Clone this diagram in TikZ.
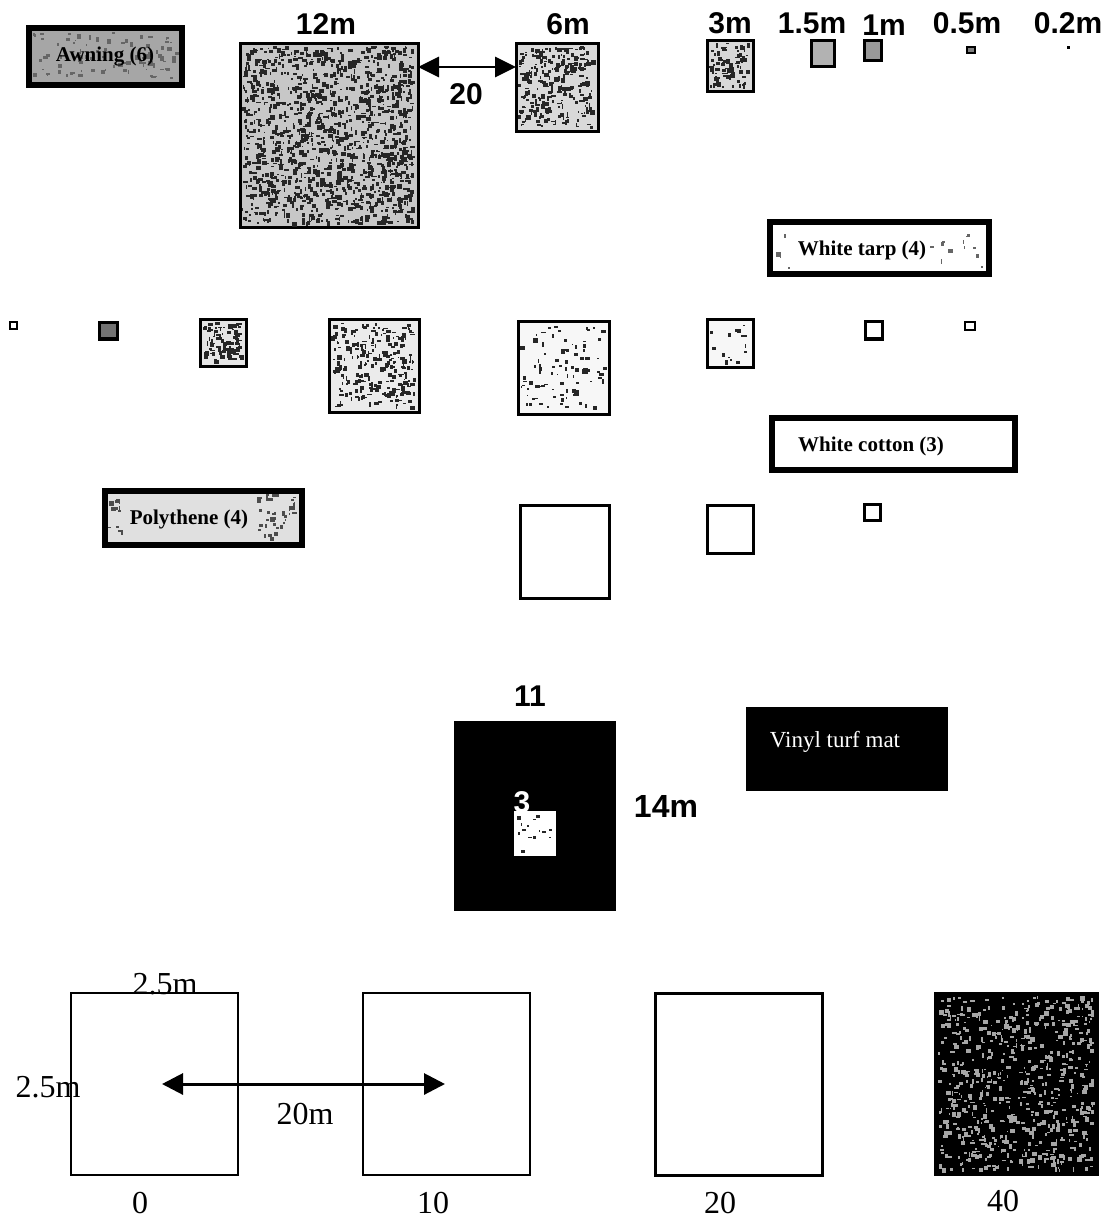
\documentclass[tikz,border=0pt]{standalone}
\usepackage{fontspec}
\setmainfont{Liberation Serif}
\newfontfamily\arialfont{Liberation Sans}
\usetikzlibrary{fit,arrows.meta}
% random speckle texture: x1,y1,x2,y2,count,colour
\newcommand{\myspeckle}[6]{%
  \foreach \k in {1,...,#5}{%
    \pgfmathsetmacro{\spx}{#1+rnd*(#3-#1-5)}%
    \pgfmathsetmacro{\spy}{#2+rnd*(#4-#2-5)}%
    \pgfmathsetmacro{\spw}{1+rnd*4}%
    \pgfmathsetmacro{\sph}{1+rnd*4}%
    \fill[#6] (\spx,\spy) rectangle ++(\spw,\sph);
  }}
\begin{document}
\begin{tikzpicture}[x=0.5pt,y=-0.5pt,
  sq/.style={draw=black, line width=1.5pt, inner sep=0pt, outer sep=0pt},
  thinsq/.style={draw=black, line width=1pt, inner sep=0pt, outer sep=0pt},
  lbox/.style={draw=black, line width=3pt, inner sep=0pt, outer sep=0pt},
  lboxtext/.style={font=\bfseries\fontsize{10.5}{12}\selectfont, inner sep=0pt},
  dimlabel/.style={font=\arialfont\bfseries\fontsize{15}{17}\selectfont, inner sep=0pt, anchor=base},
  numlabel/.style={font=\fontsize{16}{18}\selectfont, inner sep=0pt, anchor=base},
  topdbl/.style={{Triangle[length=10.5pt,width=10pt]}-{Triangle[length=10.5pt,width=10pt]}, line width=1.4pt},
  botdbl/.style={{Triangle[length=10.5pt,width=10.5pt]}-{Triangle[length=10.5pt,width=10.5pt]}, line width=1.5pt}
]
\useasboundingbox[fill=white] (0,0) rectangle (1111,1219);
\pgfmathsetseed{4711}

% ---- top row: awning squares ----
\node[lbox, fill=black!35, fit={(29,28)(182,85)}] (awning) {};
\myspeckle{32}{31}{180}{83}{90}{black!60}
\node[lboxtext] (awningtext) at (105,57) {Awning (6)};

\node[dimlabel] (l12) at (326,35) {12m};
\node[dimlabel] (l6) at (568,35) {6m};
\node[dimlabel] (l3) at (730,34) {3m};
\node[dimlabel] (l15) at (812,34) {1.5m};
\node[dimlabel] (l1) at (884,36) {1m};
\node[dimlabel] (l05) at (967,34) {0.5m};
\node[dimlabel] (l02) at (1068,34) {0.2m};

\node[sq, fill=black!22, fit={(240,44)(418,228)}] (s12) {};
\myspeckle{242}{46}{417}{227}{1300}{black!85}
\node[sq, fill=black!15, fit={(516,44)(598,132)}] (s6) {};
\myspeckle{518}{46}{597}{131}{260}{black!85}
\node[sq, fill=black!15, fit={(707,41)(753,92)}] (s3) {};
\myspeckle{709}{43}{752}{91}{80}{black!85}
\node[sq, fill=black!30, fit={(811,41)(834,67)}] (s15) {};
\node[sq, fill=black!40, fit={(864,41)(881,61)}] (s1) {};
\node[thinsq, fill=black!50, fit={(967,47)(975,53)}] (s05) {};
\node[fill=black, inner sep=0pt, minimum size=1.5pt] (s02) at (1068,48) {};

\draw[topdbl] ([yshift=-11.5pt]s12.north east) -- ([yshift=-11.5pt]s6.north west);
\node[dimlabel] (l20) at (466,105) {20};

% ---- white tarp ----
\node[lbox, fill=white, fit={(770,222)(989,274)}] (tarp) {};
\myspeckle{930}{226}{987}{272}{12}{black!60}
\myspeckle{774}{226}{795}{272}{4}{black!60}
\node[lboxtext] (tarptext) at (862,250) {White tarp (4)};

% ---- second row ----
\node[thinsq, fit={(10,322)(17,329)}] (p1) {};
\node[sq, fill=black!55, fit={(99,323)(117,339)}] (p2) {};
\node[sq, fill=black!10, fit={(200,320)(246,366)}] (p3) {};
\myspeckle{202}{322}{245}{365}{90}{black!85}
\node[sq, fill=black!8, fit={(329,320)(419,412)}] (p4) {};
\myspeckle{331}{322}{418}{411}{260}{black!85}
\node[sq, fill=black!3, fit={(518,322)(609,414)}] (p5) {};
\myspeckle{520}{324}{608}{413}{90}{black!85}
\node[sq, fill=black!3, fit={(707,320)(753,367)}] (p6) {};
\myspeckle{709}{322}{752}{366}{15}{black!85}
\node[sq, fit={(865,322)(882,339)}] (p7) {};
\node[thinsq, fit={(965,322)(975,330)}] (p8) {};

% ---- white cotton ----
\node[lbox, fill=white, fit={(772,418)(1015,470)}] (cotton) {};
\node[lboxtext] (cottontext) at (871,446) {White cotton (3)};

% ---- polythene ----
\node[lbox, fill=black!12, fit={(105,491)(302,545)}] (poly) {};
\myspeckle{252}{494}{300}{543}{40}{black!70}
\myspeckle{108}{494}{128}{543}{12}{black!70}
\node[lboxtext] (polytext) at (189,519) {Polythene (4)};

% ---- third row ----
\node[sq, fit={(520,505)(609,598)}] (w1) {};
\node[sq, fit={(707,505)(753,553)}] (w2) {};
\node[sq, fit={(864,504)(880,520)}] (w3) {};

% ---- vinyl turf mat ----
\node[dimlabel] (l11) at (530,706) {11};
\node[fill=black, inner sep=0pt, outer sep=0pt, fit={(454,721)(616,911)}] (turf) {};
\node[fill=white, inner sep=0pt, outer sep=0pt, fit={(514,811)(556,856)}] (turfin) {};
\myspeckle{515}{812}{555}{855}{14}{black!85}
\node[dimlabel, text=white] (l3w) at (522,812) {3};
\node[dimlabel, font=\arialfont\bfseries\fontsize{16}{18}\selectfont] (l14) at (666,817) {14m};
\node[fill=black, inner sep=0pt, outer sep=0pt, fit={(746,707)(948,791)}] (vinyl) {};
\node[font=\fontsize{11.5}{13}\selectfont, text=white, inner sep=0pt] (vinyltext) at (835,742) {Vinyl turf mat};

% ---- bottom row ----
\node[thinsq, fit={(71,993)(238,1175)}] (b0) {};
\node[thinsq, fit={(363,993)(530,1175)}] (b10) {};
\node[sq, fit={(655,993)(822,1175)}] (b20) {};
\node[thinsq, fill=black, fit={(935,993)(1098,1175)}] (b40) {};
\myspeckle{938}{996}{1097}{1174}{650}{black!35}

\node[numlabel] (top25) at (165,994) {2.5m};
\node[numlabel] (left25) at (48,1097) {2.5m};
\coordinate (arrl) at (162,1084);
\coordinate (arrr) at (445,1084);
\draw[botdbl] (arrl) -- (arrr);
\node[numlabel] (l20m) at (305,1124) {20m};
\node[numlabel] (n0) at (140,1213) {0};
\node[numlabel] (n10) at (433,1213) {10};
\node[numlabel] (n20) at (720,1213) {20};
\node[numlabel] (n40) at (1003,1211) {40};
\end{tikzpicture}
\end{document}
